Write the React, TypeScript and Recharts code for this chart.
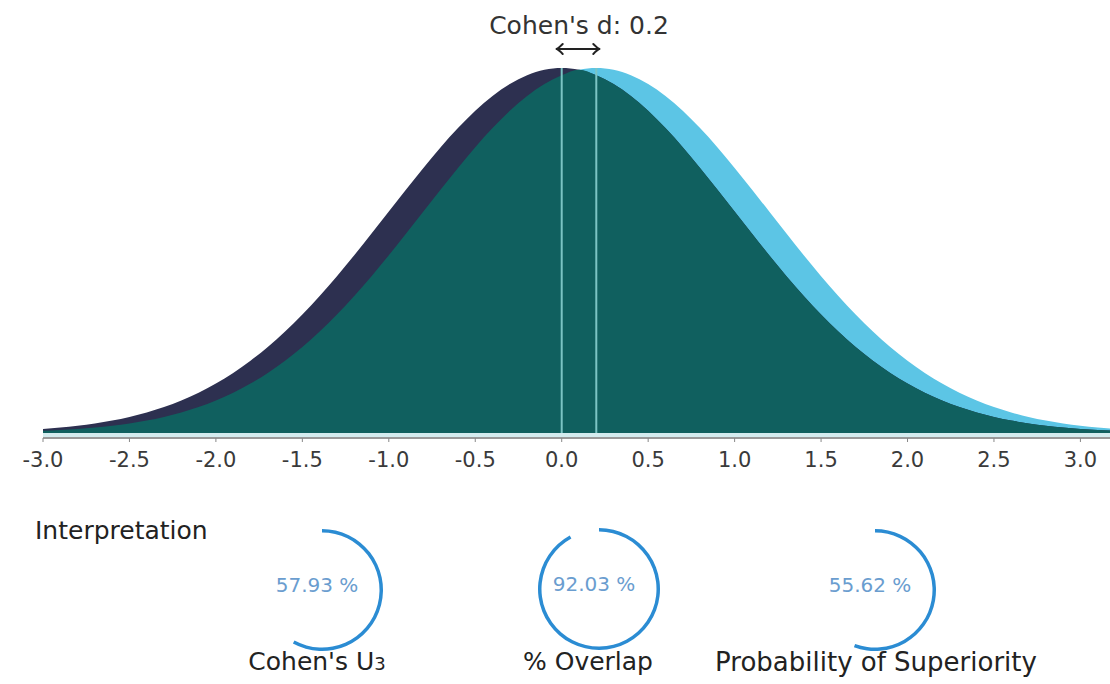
import {
  ComposedChart, Area, XAxis, YAxis, ReferenceLine, ReferenceArea,
  PieChart, Pie, Cell, Label,
} from 'recharts'

// x positions (standard deviations) the curves were read at
const XS = [
  -3.0, -2.9, -2.8, -2.7, -2.6, -2.5, -2.4, -2.3, -2.2, -2.1,
  -2.0, -1.9, -1.8, -1.7, -1.6, -1.5, -1.4, -1.3, -1.2, -1.1,
  -1.0, -0.9, -0.8, -0.7, -0.6, -0.5, -0.4, -0.3, -0.2, -0.1,
  0.0, 0.1, 0.2, 0.3, 0.4, 0.5, 0.6, 0.7, 0.8, 0.9,
  1.0, 1.1, 1.2, 1.3, 1.4, 1.5, 1.6, 1.7, 1.8, 1.9,
  2.0, 2.1, 2.2, 2.3, 2.4, 2.5, 2.6, 2.7, 2.8, 2.9,
  3.0, 3.1, 3.2,
]

// control group (mean 0)
const CONTROL = [
  0.0044, 0.0060, 0.0079, 0.0104, 0.0136, 0.0175, 0.0224, 0.0283, 0.0355, 0.0440,
  0.0540, 0.0656, 0.0790, 0.0940, 0.1109, 0.1295, 0.1497, 0.1714, 0.1942, 0.2179,
  0.2420, 0.2661, 0.2897, 0.3123, 0.3332, 0.3521, 0.3683, 0.3814, 0.3910, 0.3970,
  0.3989, 0.3970, 0.3910, 0.3814, 0.3683, 0.3521, 0.3332, 0.3123, 0.2897, 0.2661,
  0.2420, 0.2179, 0.1942, 0.1714, 0.1497, 0.1295, 0.1109, 0.0940, 0.0790, 0.0656,
  0.0540, 0.0440, 0.0355, 0.0283, 0.0224, 0.0175, 0.0136, 0.0104, 0.0079, 0.0060,
  0.0044, 0.0033, 0.0024,
]

// treatment group (mean 0.2)
const TREATMENT = [
  0.0024, 0.0033, 0.0044, 0.0060, 0.0079, 0.0104, 0.0136, 0.0175, 0.0224, 0.0283,
  0.0355, 0.0440, 0.0540, 0.0656, 0.0790, 0.0940, 0.1109, 0.1295, 0.1497, 0.1714,
  0.1942, 0.2179, 0.2420, 0.2661, 0.2897, 0.3123, 0.3332, 0.3521, 0.3683, 0.3814,
  0.3910, 0.3970, 0.3989, 0.3970, 0.3910, 0.3814, 0.3683, 0.3521, 0.3332, 0.3123,
  0.2897, 0.2661, 0.2420, 0.2179, 0.1942, 0.1714, 0.1497, 0.1295, 0.1109, 0.0940,
  0.0790, 0.0656, 0.0540, 0.0440, 0.0355, 0.0283, 0.0224, 0.0175, 0.0136, 0.0104,
  0.0079, 0.0060, 0.0044,
]

// shared area of both curves
const OVERLAP = [
  0.0024, 0.0033, 0.0044, 0.0060, 0.0079, 0.0104, 0.0136, 0.0175, 0.0224, 0.0283,
  0.0355, 0.0440, 0.0540, 0.0656, 0.0790, 0.0940, 0.1109, 0.1295, 0.1497, 0.1714,
  0.1942, 0.2179, 0.2420, 0.2661, 0.2897, 0.3123, 0.3332, 0.3521, 0.3683, 0.3814,
  0.3910, 0.3970, 0.3910, 0.3814, 0.3683, 0.3521, 0.3332, 0.3123, 0.2897, 0.2661,
  0.2420, 0.2179, 0.1942, 0.1714, 0.1497, 0.1295, 0.1109, 0.0940, 0.0790, 0.0656,
  0.0540, 0.0440, 0.0355, 0.0283, 0.0224, 0.0175, 0.0136, 0.0104, 0.0079, 0.0060,
  0.0044, 0.0033, 0.0024,
]

const X_TICKS = [-3, -2.5, -2, -1.5, -1, -0.5, 0, 0.5, 1, 1.5, 2, 2.5, 3]
const MEANS = [0, 0.2]
const PEAK = 0.3989
const EFFECT_SIZE = 0.2

const GAUGE_LABELS = ["Cohen's U", '% Overlap', 'Probability of Superiority']
const GAUGE_VALUES = [57.93, 92.03, 55.62]

const FONT = '"DejaVu Sans", "Open Sans", sans-serif'
const NAVY = '#2d3050'
const SKY = '#5cc5e5'
const TEAL = '#10605f'
const RING = '#2b8cd3'

const data = XS.map((x, i) => ({
  x,
  control: CONTROL[i],
  treatment: TREATMENT[i],
  overlap: OVERLAP[i],
}))

function DoubleArrow(props: any) {
  const { x1, y1, x2 } = props
  const a = x1 - 5
  const b = x2 + 3
  const y = y1
  return (
    <g stroke="#222" strokeWidth={2} fill="none" strokeLinecap="round" strokeLinejoin="round">
      <line x1={a} y1={y} x2={b} y2={y} />
      <path d={`M${a + 6},${y - 5} Q${a + 2},${y - 1} ${a},${y} Q${a + 2},${y + 1} ${a + 6},${y + 5}`} />
      <path d={`M${b - 6},${y - 5} Q${b - 2},${y - 1} ${b},${y} Q${b - 2},${y + 1} ${b - 6},${y + 5}`} />
    </g>
  )
}

function Gauge({ value, cx, cy }: { value: number; cx: number; cy: number }) {
  const slices = [{ v: value }, { v: 100 - value }]
  return (
    <div style={{ position: 'absolute', left: cx - 70, top: cy - 70 }}>
      <PieChart width={140} height={140}>
        <Pie
          data={slices}
          dataKey="v"
          cx={70}
          cy={70}
          innerRadius={57.5}
          outerRadius={61}
          startAngle={90}
          endAngle={-270}
          stroke="none"
          isAnimationActive={false}
        >
          <Cell fill={RING} />
          <Cell fill="transparent" />
          <Label
            value={`${value.toFixed(2)} %`}
            position="center"
            fill="#6a9dcf"
            fontSize={20}
            fontFamily={FONT}
          />
        </Pie>
      </PieChart>
    </div>
  )
}

const GAUGE_POS = [
  { cx: 317, cy: 585, lx: 317 },
  { cx: 594, cy: 584, lx: 588 },
  { cx: 870, cy: 585, lx: 876 },
]

export default function App() {
  return (
    <div style={{
      position: 'fixed', left: 0, top: 0, width: 1110, height: 684,
      overflow: 'hidden', background: '#fff', fontFamily: FONT, color: '#222',
    }}>
      <div style={{
        position: 'absolute', left: 479, width: 200, top: 11, lineHeight: '30px',
        textAlign: 'center', fontSize: 25, color: '#333',
      }}>
        Cohen's d: {EFFECT_SIZE}
      </div>

      <div style={{ position: 'absolute', left: 0, top: 0 }}>
        <ComposedChart
          width={1120}
          height={478}
          data={data}
          margin={{ top: 68, right: 5, bottom: 0, left: 43 }}
        >
          <XAxis
            dataKey="x"
            type="number"
            domain={[-3, 3.2]}
            ticks={X_TICKS}
            allowDataOverflow
            tickFormatter={(v: number) => v.toFixed(1)}
            tick={{ fill: '#3a3a3a', fontSize: 21, fontFamily: FONT }}
            axisLine={{ stroke: '#9a9a9a', strokeWidth: 2 }}
            tickLine={{ stroke: '#888' }}
            tickSize={4}
            tickMargin={10}
            height={40}
            interval={0}
          />
          <YAxis type="number" domain={[-0.0055, PEAK]} hide allowDataOverflow />
          <ReferenceArea x1={-3} x2={3.2} y1={-0.0055} y2={0} fill="#d4ecef" fillOpacity={1} stroke="none" />
          <Area type="monotone" dataKey="treatment" fill={SKY} fillOpacity={1} stroke="none" isAnimationActive={false} />
          <Area type="monotone" dataKey="control" fill={NAVY} fillOpacity={1} stroke="none" isAnimationActive={false} />
          <Area type="monotone" dataKey="overlap" fill={TEAL} fillOpacity={1} stroke="none" isAnimationActive={false} />
          {MEANS.map(m => (
            <ReferenceLine
              key={m}
              segment={[{ x: m, y: 0 }, { x: m, y: PEAK }]}
              stroke="#7cc4c4"
              strokeWidth={2}
            />
          ))}
          <ReferenceLine
            segment={[{ x: MEANS[0], y: 0.4197 }, { x: MEANS[1], y: 0.4197 }]}
            ifOverflow="visible"
            shape={DoubleArrow}
          />
        </ComposedChart>
      </div>

      <div style={{
        position: 'absolute', left: 35, top: 516, fontSize: 25, lineHeight: '30px',
      }}>
        Interpretation
      </div>

      {GAUGE_VALUES.map((v, i) => (
        <Gauge key={i} value={v} cx={GAUGE_POS[i].cx} cy={GAUGE_POS[i].cy} />
      ))}

      {GAUGE_LABELS.map((l, i) => (
        <div key={l} style={{
          position: 'absolute', left: GAUGE_POS[i].lx - 200, width: 400, top: 647,
          textAlign: 'center', fontSize: i === 2 ? 26 : 25, lineHeight: '30px', color: '#222',
        }}>
          {l}{i === 0 && <span style={{ fontSize: 18 }}>3</span>}
        </div>
      ))}
    </div>
  )
}
